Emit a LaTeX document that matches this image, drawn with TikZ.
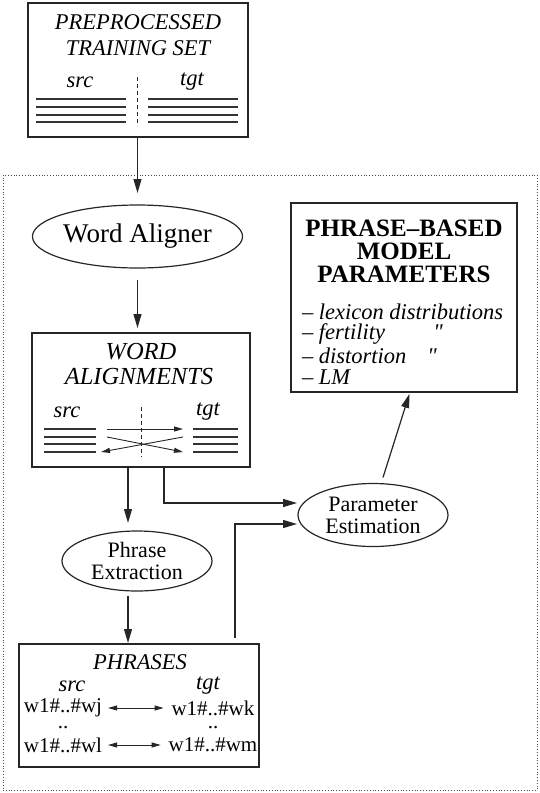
\documentclass[tikz,border=0pt]{standalone}
\usepackage{fontspec}
\setmainfont{Liberation Serif}
\newfontfamily\dittofont{Liberation Serif}[Ligatures=ResetAll]
\usetikzlibrary{arrows.meta,shapes.geometric}
\begin{document}
\begin{tikzpicture}[x=1pt,y=-1pt,
  every node/.style={inner sep=0pt,outer sep=0pt},
  boxnode/.style={draw=black!85,line width=1.5pt,anchor=north west},
  ell/.style={draw=black!85,ellipse,line width=1.2pt},
  txt/.style={font=\fontsize{22}{24}\selectfont},
  wtx/.style={font=\fontsize{21}{23}\selectfont},
  itx/.style={font=\fontsize{22.5}{24}\selectfont\itshape},
  itb/.style={font=\fontsize{24.5}{26}\selectfont\itshape},
  bld/.style={font=\fontsize{25}{27}\selectfont\bfseries},
  arr/.style={draw=black!85,line width=1.2pt,-{Triangle[length=14pt,width=8pt]}},
  sarr/.style={draw=black!85,line width=0.9pt,-{Triangle[length=9pt,width=5pt]}},
  darr/.style={draw=black!85,line width=0.9pt,{Triangle[length=9pt,width=5pt]}-{Triangle[length=9pt,width=5pt]}},
  rule/.style={draw=black!80,line width=1.5pt},
  dsh/.style={draw=black!85,line width=1pt,dash pattern=on 4pt off 3pt}]
\useasboundingbox (0,0) rectangle (540,793);
% dotted frame
\node[draw=black!70,line width=0.8pt,dotted,anchor=north west,minimum width=534pt,minimum height=615pt] (frame) at (3,175) {};

% top box
\node[boxnode,minimum width=220pt,minimum height=134pt] (pre) at (28,3) {};
\node[itx] (pre1) at (138,22) {PREPROCESSED};
\node[itx] (pre2) at (138,48) {TRAINING SET};
\node[itx] (presrc) at (80,82) {src};
\node[itx] (pretgt) at (192,82) {tgt};
\foreach \y in {99,107,115,122}{
  \draw[rule] (36,\y) -- (126,\y);
  \draw[rule] (148,\y) -- (238,\y);
}
\draw[dsh] (137,77) -- (137,126);

% word aligner
\node[ell,minimum width=183pt,minimum height=63pt,font=\fontsize{27}{29}\selectfont] (wa) at (137.5,236.5) {Word Aligner};

% word alignments box
\node[boxnode,minimum width=218pt,minimum height=134pt] (wal) at (32,333) {};
\node[itb] (wal1) at (141,352) {WORD};
\node[itb] (wal2) at (139,377) {ALIGNMENTS};
\node[itx] (walsrc) at (67,412) {src};
\node[itx] (waltgt) at (208,412) {tgt};
\foreach \y in {429,437,444,452}{
  \draw[rule] (44,\y) -- (96,\y);
  \draw[rule] (193,\y) -- (238,\y);
}
\draw[dsh] (141,407) -- (141,457);
\draw[sarr] (107,429) -- (183,429);
\draw[sarr] (107,437) -- (183,452);
\draw[sarr] (183,437) -- (101,452);

% phrase extraction
\node[ell,minimum width=150pt,minimum height=60pt,txt,align=center] (pe) at (137,561) {Phrase\\[-2pt]Extraction};

% parameter estimation
\node[ell,minimum width=150pt,minimum height=63pt,txt,align=center] (est) at (373,515) {Parameter\\[-2pt]Estimation};

% model parameters box
\node[boxnode,minimum width=226pt,minimum height=189pt] (mp) at (291,203) {};
\node[bld] (mp1) at (404,228) {PHRASE--BASED};
\node[bld] (mp2) at (404,251) {MODEL};
\node[bld] (mp3) at (404,274) {PARAMETERS};
\node[itx,anchor=west] (mp4) at (302,312) {\upshape--\ \itshape lexicon distributions};
\node[itx,anchor=west] (mp5) at (302,334) {\upshape--\ \itshape fertility};
\node[itx,anchor=west] (mp6) at (302,356) {\upshape--\ \itshape distortion};
\node[itx,anchor=west] (mp7) at (302,377) {\upshape--\ \itshape LM};
\node[font=\fontsize{22.5}{24}\dittofont\itshape,anchor=base] (q1) at (mp5.base -| 438,0) {\symbol{34}};
\node[font=\fontsize{22.5}{24}\dittofont\itshape,anchor=base] (q2) at (mp6.base -| 432,0) {\symbol{34}};

% phrases box
\node[boxnode,minimum width=240pt,minimum height=123pt] (ph) at (19,644) {};
\node[itx] (ph1) at (140,662) {PHRASES};
\node[itx] (phsrc) at (72,686) {src};
\node[itx] (phtgt) at (208,686) {tgt};
\node[wtx] (w1) at (63,708) {w1\#..\#wj};
\node[wtx] (w2) at (213,708) {w1\#..\#wk};
\node[wtx,anchor=base] (d1) at (63,728) {..};
\node[wtx,anchor=base] (d2) at (213,728) {..};
\node[wtx] (w3) at (63,745) {w1\#..\#wl};
\node[wtx] (w4) at (213,745) {w1\#..\#wm};
\path (w1.east) ++(6pt,0) coordinate (a1) (w2.west) ++(-8pt,0) coordinate (a2);
\draw[darr] (a1) -- (a2);
\path (w3.east) ++(6pt,0) coordinate (a3) (w4.west) ++(-8pt,0) coordinate (a4);
\draw[darr] (a3) -- (a4 |- a3);

% connectors
\draw[arr,shorten >=12pt] (pre.south -| wa.north) -- (wa.north);
\draw[arr,shorten <=12pt,shorten >=5pt] (wa.south) -- (wa.south |- wal.north);
\coordinate (l1) at (128,467);
\draw[arr,shorten >=8pt] (l1) -- (l1 |- pe.north);
\draw[arr,shorten <=5pt,shorten >=1pt] (pe.south -| l1) -- (l1 |- ph.north);
\coordinate (l2) at (164,467);
\draw[arr,shorten >=1pt] (l2) |- ([yshift=12pt]est.west);
\coordinate (l3) at (235,638);
\draw[arr,shorten >=1pt] (l3) |- ([yshift=-9pt]est.west);
\draw[arr,shorten >=2pt] ([xshift=10pt,yshift=6pt]est.north) -- (mp.south -| 410,0);
\end{tikzpicture}
\end{document}
